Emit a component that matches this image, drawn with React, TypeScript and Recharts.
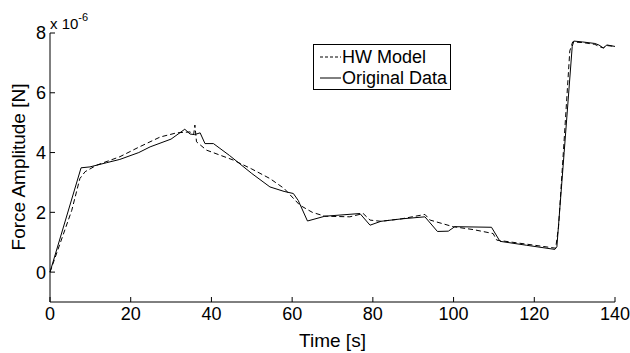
import { Label, Legend, Line, LineChart, XAxis, YAxis } from "recharts";

// HW model (dashed) and original measured data (solid), force in units of 1e-6 N
const hwTime = [0, 5.4, 7.4, 8.7, 11.6, 17.3, 22, 27.3, 31.4, 34.7, 35.6, 35.9, 36.3, 38.8, 45.4, 50, 54.5, 58, 61.9, 65, 68.1, 74.3, 77.6, 79.3, 82, 87, 92.9, 94.2, 99.9, 105, 109.8, 110.7, 114, 120, 125.3, 126, 127.2, 128.8, 129.5, 132, 135, 136, 137.1, 138, 140];
const hwForce = [0, 2.07, 3.13, 3.36, 3.58, 3.86, 4.18, 4.52, 4.66, 4.69, 4.6, 4.92, 4.36, 4.08, 3.75, 3.45, 3.13, 2.8, 2.24, 2.0, 1.87, 1.85, 1.96, 1.74, 1.7, 1.78, 1.93, 1.74, 1.52, 1.42, 1.29, 1.07, 1.01, 0.9, 0.8, 1.5, 4.0, 7.4, 7.7, 7.68, 7.62, 7.55, 7.5, 7.58, 7.55];

const origTime = [0, 7.7, 9.9, 14, 17.3, 22, 24.8, 30, 33.4, 34.7, 35.8, 37.2, 38.4, 40.5, 42.1, 44.5, 46.7, 50, 54.5, 58, 60.3, 61.5, 63.8, 68.1, 76.8, 79.3, 82, 87, 92.9, 96, 98.7, 100.3, 109.4, 111.5, 118, 125.1, 125.6, 127.4, 129.4, 129.8, 132, 135, 136, 137.1, 138, 140];
const origForce = [0, 3.49, 3.52, 3.66, 3.77, 4.0, 4.19, 4.45, 4.78, 4.62, 4.6, 4.66, 4.3, 4.3, 4.14, 3.9, 3.66, 3.3, 2.85, 2.7, 2.63, 2.4, 1.71, 1.87, 1.96, 1.57, 1.7, 1.78, 1.85, 1.36, 1.37, 1.52, 1.5, 1.03, 0.9, 0.76, 0.85, 4.0, 7.55, 7.73, 7.7, 7.65, 7.6, 7.5, 7.6, 7.55];

const xTicks = [0, 20, 40, 60, 80, 100, 120, 140];
const yTicks = [0, 2, 4, 6, 8];

const hwData = hwTime.map((t, i) => ({ t, v: hwForce[i] }));
const origData = origTime.map((t, i) => ({ t, v: origForce[i] }));

const FONT = "'Liberation Sans', Arial, Helvetica, sans-serif";
const TICK_LEN = 5;
const GAP_X = 5;
const GAP_Y = 4;

function BottomTick({ x, y, payload }: any) {
  return (
    <g>
      <line x1={x} x2={x} y1={y - GAP_X} y2={y - GAP_X - TICK_LEN} stroke="#000" />
      <text x={x} y={y} dy="0.71em" textAnchor="middle" fontSize={18} fontFamily={FONT} fill="#000">
        {payload.value}
      </text>
    </g>
  );
}

function LeftTick({ x, y, payload }: any) {
  return (
    <g>
      <line x1={x + GAP_Y} x2={x + GAP_Y + TICK_LEN} y1={y} y2={y} stroke="#000" />
      <text x={x} y={y} dy="0.355em" textAnchor="end" fontSize={18} fontFamily={FONT} fill="#000">
        {payload.value}
      </text>
    </g>
  );
}

function TopTick({ x, y }: any) {
  return <line x1={x} x2={x} y1={y} y2={y + TICK_LEN} stroke="#000" />;
}

function RightTick({ x, y }: any) {
  return <line x1={x} x2={x - TICK_LEN} y1={y} y2={y} stroke="#000" />;
}

function LegendBox() {
  const row = (label: string, dash?: string) => (
    <div style={{ display: "flex", alignItems: "center", height: 21 }}>
      <svg width={22} height={10} style={{ marginLeft: 6 }}>
        <line x1={0} x2={21} y1={5} y2={5} stroke="#000" strokeDasharray={dash} />
      </svg>
      <span style={{ fontSize: 18, marginLeft: 0 }}>{label}</span>
    </div>
  );
  return (
    <div
      style={{
        width: 136,
        height: 43,
        border: "1px solid #000",
        background: "#fff",
        fontFamily: FONT,
        color: "#000",
        lineHeight: 1,
        paddingTop: 1,
        boxSizing: "content-box",
      }}
    >
      {row("HW Model", "3 2")}
      {row("Original Data")}
    </div>
  );
}

export default function App() {
  return (
    <div style={{ position: "absolute", left: 0, top: 0, width: 630, height: 353, background: "#fff" }}>
      <LineChart width={630} height={353} margin={{ top: 33, right: 15, bottom: 0, left: 0 }}>
        <XAxis
          xAxisId="b"
          dataKey="t"
          type="number"
          domain={[0, 140]}
          ticks={xTicks}
          height={51}
          tickSize={0}
          tickMargin={GAP_X}
          tick={BottomTick}
          axisLine={{ stroke: "#000" }}
          allowDuplicatedCategory={false}
        >
          <Label
            content={() => (
              <text x={332.5} y={347} textAnchor="middle" fontSize={19} fontFamily={FONT} fill="#000">
                Time [s]
              </text>
            )}
          />
        </XAxis>
        <XAxis
          xAxisId="t"
          orientation="top"
          type="number"
          domain={[0, 140]}
          ticks={xTicks}
          height={0}
          tickSize={0}
          tickMargin={0}
          tick={TopTick}
          axisLine={{ stroke: "#000" }}
        />
        <YAxis
          yAxisId="l"
          type="number"
          domain={[-1, 8]}
          ticks={yTicks}
          width={50}
          tickSize={0}
          tickMargin={GAP_Y}
          tick={LeftTick}
          axisLine={{ stroke: "#000" }}
        >
          <Label
            content={() => (
              <g>
                <text
                  x={18}
                  y={167}
                  transform="rotate(-90 18 167)"
                  textAnchor="middle"
                  dominantBaseline="central"
                  fontSize={19}
                  fontFamily={FONT}
                  fill="#000"
                >
                  Force Amplitude [N]
                </text>
                <text x={50} y={29} fontSize={15} fontFamily={FONT} fill="#000">
                  x 10
                  <tspan dy={-8} fontSize={11}>
                    -6
                  </tspan>
                </text>
              </g>
            )}
          />
        </YAxis>
        <YAxis
          yAxisId="r"
          orientation="right"
          type="number"
          domain={[-1, 8]}
          ticks={yTicks}
          width={0}
          tickSize={0}
          tickMargin={0}
          tick={RightTick}
          axisLine={{ stroke: "#000" }}
        />
        <Legend
          layout="vertical"
          align="center"
          verticalAlign="middle"
          content={() => <LegendBox />}
          wrapperStyle={{ left: 313, top: 44, width: 138, height: 45 }}
        />
        <Line
          xAxisId="b"
          yAxisId="l"
          data={hwData}
          dataKey="v"
          type="linear"
          stroke="#000"
          strokeWidth={1}
          strokeDasharray="5 3"
          dot={false}
          isAnimationActive={false}
        />
        <Line
          xAxisId="b"
          yAxisId="l"
          data={origData}
          dataKey="v"
          type="linear"
          stroke="#000"
          strokeWidth={1}
          dot={false}
          isAnimationActive={false}
        />
      </LineChart>
    </div>
  );
}
